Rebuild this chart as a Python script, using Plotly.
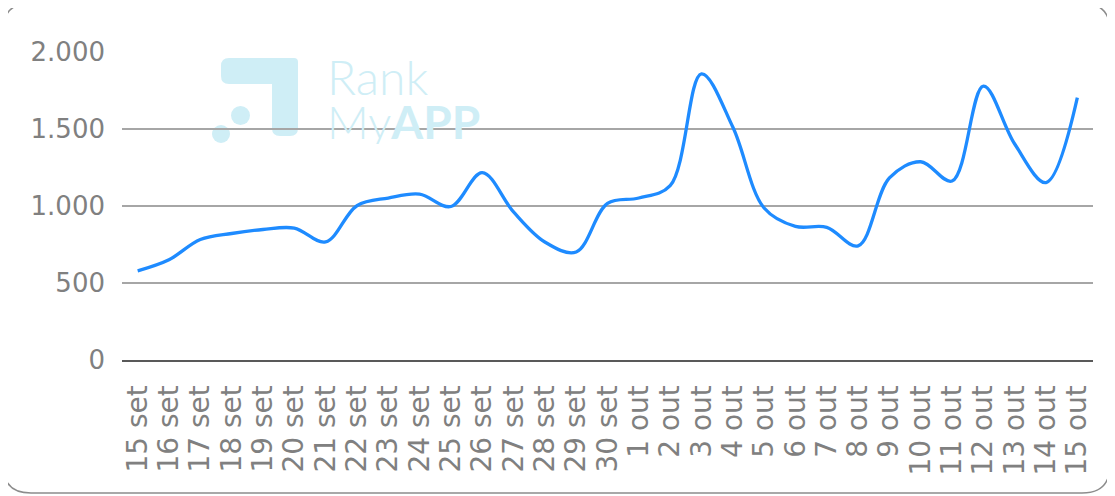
import plotly.graph_objects as go

# ---- data ----
categories = ["15 set", "16 set", "17 set", "18 set", "19 set", "20 set", "21 set", "22 set",
              "23 set", "24 set", "25 set", "26 set", "27 set", "28 set", "29 set", "30 set",
              "1 out", "2 out", "3 out", "4 out", "5 out", "6 out", "7 out", "8 out",
              "9 out", "10 out", "11 out", "12 out", "13 out", "14 out", "15 out"]
values = [578, 650, 781, 820, 846, 855, 765, 1000, 1050, 1075, 995, 1215, 960, 765, 700, 1015,
          1050, 1130, 1855, 1510, 985, 866, 860, 740, 1180, 1285, 1160, 1775, 1400, 1150, 1700]
y_ticks = [0, 500, 1000, 1500, 2000]

# ---- layout geometry (page pixels; the page body has an 8px margin) ----
OFF = 8
FW, FH = 1115 - OFF, 496 - OFF
L, R, T, B = 122 - OFF, 22, 51 - OFF, 136
PW = FW - L - R
PH = FH - T - B


def fx(px):
    return (px - OFF - L) / PW


def fy(py):
    return (FH - B - (py - OFF)) / PH


def rounded_rect(x0, y0, x1, y1, r):
    return (f"M {fx(x0 + r)},{fy(y0)} L {fx(x1 - r)},{fy(y0)} "
            f"Q {fx(x1)},{fy(y0)} {fx(x1)},{fy(y0 + r)} L {fx(x1)},{fy(y1 - r)} "
            f"Q {fx(x1)},{fy(y1)} {fx(x1 - r)},{fy(y1)} L {fx(x0 + r)},{fy(y1)} "
            f"Q {fx(x0)},{fy(y1)} {fx(x0)},{fy(y1 - r)} L {fx(x0)},{fy(y0 + r)} "
            f"Q {fx(x0)},{fy(y0)} {fx(x0 + r)},{fy(y0)} Z")


logo_col = "#CFEEF6"
r = 8
icon_path = (f"M {fx(221 + r)},{fy(58)} L {fx(298 - 4)},{fy(58)} Q {fx(298)},{fy(58)} {fx(298)},{fy(62)} "
             f"L {fx(298)},{fy(136 - r)} Q {fx(298)},{fy(136)} {fx(298 - r)},{fy(136)} "
             f"L {fx(272 + r)},{fy(136)} Q {fx(272)},{fy(136)} {fx(272)},{fy(136 - r)} "
             f"L {fx(272)},{fy(84)} L {fx(221 + r)},{fy(84)} Q {fx(221)},{fy(84)} {fx(221)},{fy(84 - r)} "
             f"L {fx(221)},{fy(58 + r)} Q {fx(221)},{fy(58)} {fx(221 + r)},{fy(58)} Z")

shapes = [
    dict(type="path", xref="paper", yref="paper", path=rounded_rect(3, 3, 1110, 493, 28),
         line=dict(color="#8C8C8C", width=1.5), fillcolor="rgba(0,0,0,0)", layer="below"),
    dict(type="path", xref="paper", yref="paper", path=icon_path,
         line=dict(width=0), fillcolor=logo_col, layer="below"),
    dict(type="circle", xref="paper", yref="paper", x0=fx(231), x1=fx(250), y0=fy(106), y1=fy(125),
         line=dict(width=0), fillcolor=logo_col, layer="below"),
    dict(type="circle", xref="paper", yref="paper", x0=fx(212), x1=fx(230), y0=fy(125), y1=fy(143),
         line=dict(width=0), fillcolor=logo_col, layer="below"),
]

annotations = [
    dict(xref="paper", yref="paper", x=fx(325), y=fy(76), xanchor="left", yanchor="middle",
         text="Rank", showarrow=False, height=42, valign="middle",
         font=dict(family="Lato", size=48, color=logo_col, weight=300)),
    dict(xref="paper", yref="paper", x=fx(325), y=fy(121), xanchor="left", yanchor="middle",
         text="My<b>APP</b>", showarrow=False, height=46, valign="middle",
         font=dict(family="Lato", size=46, color=logo_col, weight=300)),
]

fig = go.Figure()
fig.add_trace(go.Scatter(
    x=categories, y=values, mode="lines",
    line=dict(color="#1E8BFF", width=3.3, shape="spline", smoothing=1.0),
    showlegend=False, hoverinfo="skip"))

x_font = dict(family="DejaVu Sans", size=28, color="#808080")
y_font = dict(family="DejaVu Sans", size=26, color="#808080")

fig.update_layout(
    width=FW, height=FH,
    margin=dict(l=L, r=R, t=T, b=B, pad=0),
    paper_bgcolor="white", plot_bgcolor="rgba(0,0,0,0)",
    separators=",.",
    shapes=shapes, annotations=annotations,
    xaxis=dict(type="category", range=[-0.5, len(categories) - 0.5], tickangle=-90,
               tickmode="linear", dtick=1,
               tickfont=x_font, showgrid=False, showline=True, linecolor="#595959",
               linewidth=2, ticks="", ticklabelstandoff=12, zeroline=False),
    yaxis=dict(range=[0, 2003], tickvals=y_ticks, tickformat=",d", tickfont=y_font,
               showgrid=True, gridcolor="#A6A6A6", gridwidth=1.5, zeroline=False,
               showline=False, ticks="", ticklabelstandoff=16),
)

fig.write_html("out.html")
